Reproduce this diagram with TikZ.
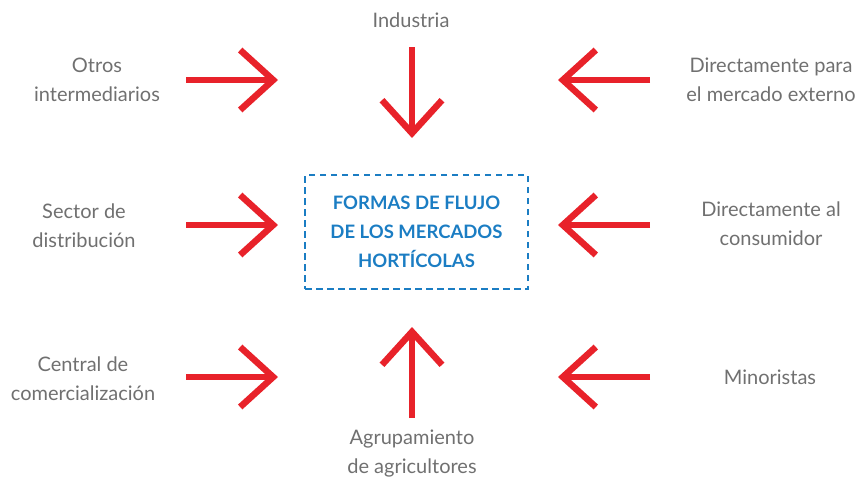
\documentclass[tikz,border=0pt]{standalone}
\usepackage{fontspec}
\setmainfont{Lato}
\usetikzlibrary{arrows.meta}

\definecolor{flujored}{HTML}{E8222A}
\definecolor{flujoblue}{HTML}{1B7DC3}
\definecolor{flujogray}{HTML}{707070}

\begin{document}
\begin{tikzpicture}[x=1pt,y=1pt,
			label node/.style={align=center,text=flujogray,font=\fontsize{20}{29}\selectfont},
			title node/.style={draw=flujoblue,line width=2.4pt,dash pattern=on 6.5pt off 4.5pt,
				align=center,text=flujoblue,minimum width=223pt,minimum height=114pt,
				font=\bfseries\fontsize{18.5}{29}\selectfont},
			flow/.style={draw=flujored,line width=6.5pt,
				-{Straight Barb[sharp,length=33pt,width=60pt]}}]
			
			\useasboundingbox (0,0) rectangle (858,-480);
			
			% centre
			\node[title node] (formas) at (416.5,-232) {FORMAS DE FLUJO\\DE LOS MERCADOS\\HORTÍCOLAS};
			
			% labels
			\node[label node] (otros) at (97,-80) {Otros\\intermediarios};
			\node[label node] (industria) at (411,-20) {Industria};
			\node[label node] (externo) at (771,-80) {Directamente para\\el mercado externo};
			\node[label node] (sector) at (84,-226) {Sector de\\distribución};
			\node[label node] (consumidor) at (771,-224) {Directamente al\\consumidor};
			\node[label node] (central) at (83,-379) {Central de\\comercialización};
			\node[label node] (minoristas) at (770,-377) {Minoristas};
			\node[label node] (agrupamiento) at (412,-454) {Agrupamiento\\de agricultores};
			
			% arrow ends
			\coordinate (otros-a) at (186,-80);   \coordinate (otros-b) at (278,-80);
			\coordinate (externo-a) at (650,-80); \coordinate (externo-b) at (558,-80);
			\coordinate (industria-a) at (412,-47); \coordinate (industria-b) at (412,-138);
			\coordinate (sector-a) at (186,-225); \coordinate (sector-b) at (278,-225);
			\coordinate (consumidor-a) at (650,-225); \coordinate (consumidor-b) at (558,-225);
			\coordinate (central-a) at (186,-377); \coordinate (central-b) at (278,-377);
			\coordinate (minoristas-a) at (650,-377); \coordinate (minoristas-b) at (558,-377);
			\coordinate (agrupamiento-a) at (412,-418); \coordinate (agrupamiento-b) at (412,-327);
			
			\foreach \n in {otros,externo,industria,sector,consumidor,central,minoristas,agrupamiento}
				\draw[flow] (\n-a) -- (\n-b);
			\end{tikzpicture}
\end{document}
